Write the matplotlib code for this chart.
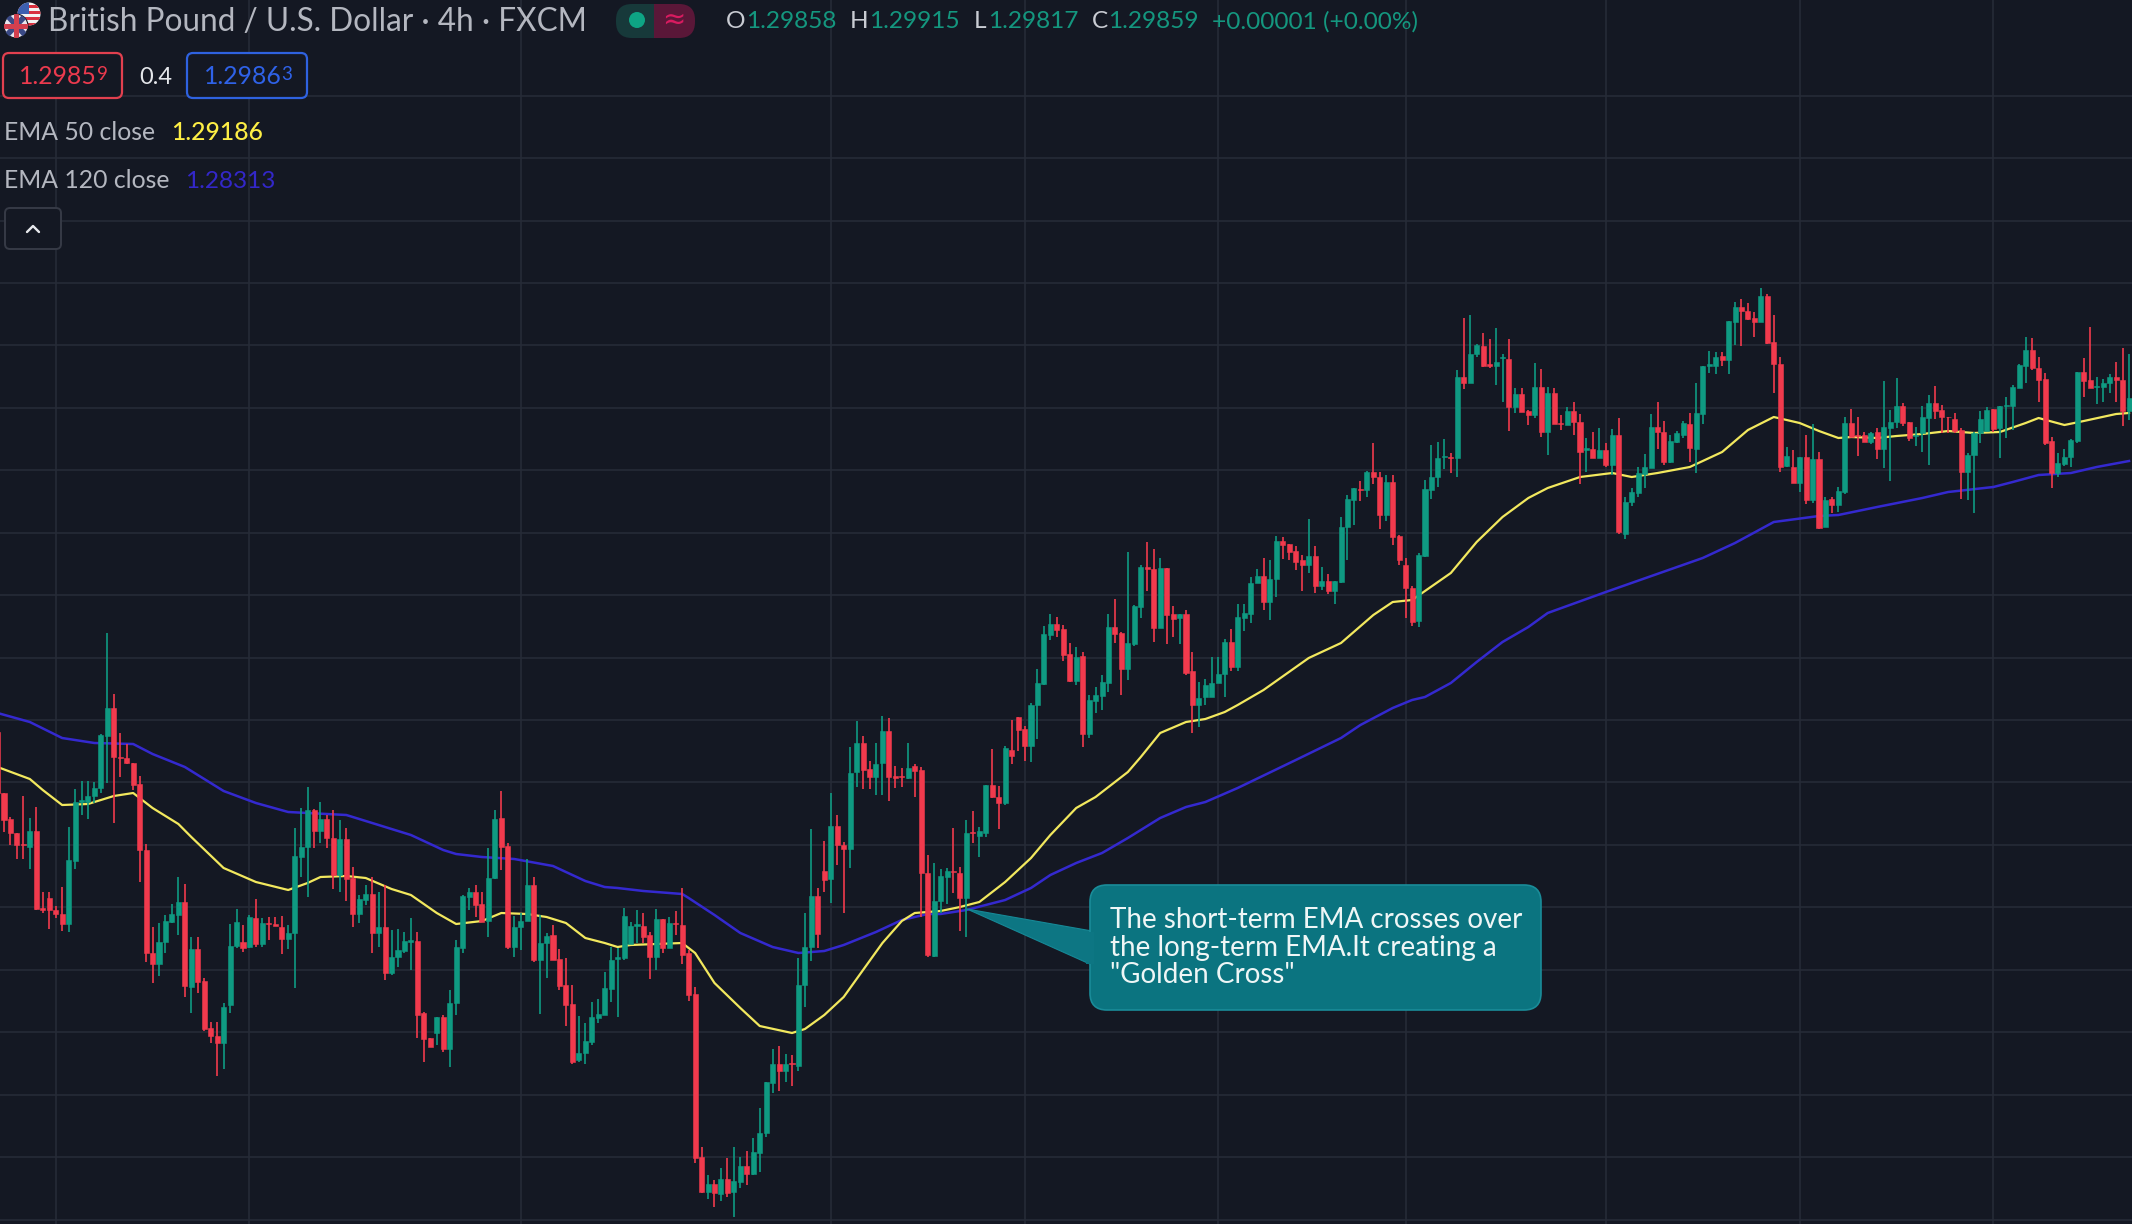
import numpy as np
import matplotlib
matplotlib.use("Agg")
import matplotlib.pyplot as plt
from matplotlib.patches import FancyBboxPatch, Circle, Polygon, Rectangle

# ---------- chart scale ----------
Y_TOP = 1.30133
Y_BOTTOM = 1.25232
PT = (Y_TOP - Y_BOTTOM) / 1224          # one point of price
TICK = PT / 3                           # readings are in thirds of a point
GRID_STEP = 0.0025

# Candles are read in seven stretches; each reading is in ticks below that stretch's reference depth.
depth_1 = 620
open_1 = [335,520,598,640,672,680,633,865,834,870,
          883,912,722,546,546,527,505,347,265,410,
          413,428,492,690,1000,1033,965,905,884,847,
          1100,988,1083,1225,1247,1268,1155,978,965,982,
          893,972,908,913,922,958,940,710]
close_1 = [520,600,640,675,675,633,868,870,870,883,
           912,720,545,541,527,505,345,265,412,413,
           430,495,690,1000,1033,965,903,882,847,1098,
           988,1085,1228,1248,1268,1160,977,905,985,892,
           972,910,912,917,958,940,708,680]
high_1 = [333,518,590,640,528,595,562,815,815,858,
          802,620,508,482,482,485,342,40,222,340,
          372,428,468,672,920,908,885,852,772,792,
          950,950,1075,1205,1205,1150,912,868,915,885,
          838,895,892,892,888,915,625,565]
low_1 = [525,635,675,716,716,748,870,878,928,895,
         932,935,746,585,597,550,520,490,610,472,
         432,510,785,1025,1090,1068,1000,910,945,1130,
         1178,1118,1233,1268,1368,1348,1180,985,995,985,
         982,980,960,918,1002,988,1105,772]

depth_2 = 760
open_2 = [262,150,212,178,235,345,237,355,462,420,
          402,518,502,640,592,572,545,543,760,835,
          818,770,868,730,565,410,397,432,483,355,
          175,257,562,502,482,375,600,548,525,598,
          675,732,900,880,845,773,765,687,597]
close_2 = [150,212,178,235,345,237,357,462,418,402,
           518,502,640,592,570,543,541,765,838,860,
           770,868,730,560,408,397,435,485,355,177,
           262,562,502,482,375,600,548,527,600,678,
           735,905,880,842,772,762,685,600,592]
high_2 = [80,148,125,165,150,180,205,322,405,375,
          352,397,375,510,508,515,475,515,755,835,
          770,765,690,540,405,385,375,395,265,150,
          92,250,468,458,298,352,465,520,495,568,
          595,675,768,790,725,718,635,562,565]
low_2 = [412,265,248,265,388,395,422,500,490,435,
         580,560,660,645,622,580,630,835,905,862,
         855,875,920,765,578,450,470,487,530,358,
         330,568,590,570,482,605,762,655,600,690,
         797,912,905,912,855,790,765,725,772]

depth_3 = 780
open_3 = [535,492,437,437,465,532,418,505,428,435,
          520,642,1132,1235,1212,1242,1197,1235,1205,1158,
          1182,1118,1060,908,852,872,850,858,615,502,
          348,272,298,138,195,208,-24,-110,-32,-9,
          -50,-148,-12,-12,-6,-41,-30]
close_3 = [408,437,432,470,532,418,505,428,432,525,
           645,1135,1235,1212,1240,1197,1238,1203,1158,1182,
           1115,1060,905,852,872,852,853,615,502,348,
           462,300,138,195,208,-21,-111,-29,-9,-49,
           -148,-9,-6,-9,-37,-27,280]
high_3 = [385,425,390,400,455,388,418,412,392,325,
          510,622,1100,1185,1200,1165,1135,1100,1130,1112,
          1075,985,905,808,798,822,825,535,400,148,
          325,182,40,105,185,-99,-177,-133,-56,-110,
          -191,-185,-41,-35,-110,-47,-39]
low_3 = [540,492,490,490,598,570,520,505,465,552,
         662,1148,1240,1258,1282,1262,1252,1310,1225,1215,
         1185,1175,1072,938,932,905,918,872,682,542,
         505,335,368,255,400,265,21,28,28,45,
         45,62,25,22,-4,52,410]

depth_4 = 540
open_4 = [1000,1247,1082,1010,992,998,1075,877,888,878,
          735,770,790,630,532,568,618,495,432,285,
          252,268,343,422,347,582,482,467,428,262,
          280,387,313,200,82,88,265,85,222,235,
          222,393,495,472,470,430,403,307,382]
close_4 = [1245,1082,1008,993,995,1075,878,880,873,735,
           772,790,625,648,570,618,494,430,282,252,
           270,345,422,350,582,480,465,427,262,282,
           387,310,198,82,86,265,85,225,237,222,
           398,495,473,435,428,403,307,382,232]
high_4 = [945,968,988,985,865,982,840,812,862,735,
          628,738,618,540,530,558,490,388,258,222,
          232,255,308,322,335,465,440,405,222,178,
          275,35,195,75,5,28,55,85,198,222,
          210,335,425,418,352,352,298,268,192]
low_4 = [1250,1250,1118,1092,1060,1172,1190,908,950,892,
         775,868,795,672,632,663,666,598,435,300,
         292,362,425,435,622,595,520,510,455,310,
         465,420,317,235,152,305,265,312,290,312,
         405,578,560,495,470,430,472,392,392]

depth_5 = 420
open_5 = [595,582,490,468,547,478,363,373,392,420,
          435,408,498,483,513,485,322,240,206,210,
          155,172,285,187,348,435,503,603,408,210,
          170,112,110,115]
close_5 = [578,488,468,547,478,362,375,395,425,435,
           408,497,483,513,483,320,238,205,210,155,
           172,285,187,350,420,505,605,405,208,170,
           115,108,115,-129]
high_5 = [552,472,448,415,420,348,350,372,377,405,
          298,378,442,462,483,292,225,205,182,153,
          68,155,165,165,345,415,498,400,180,75,
          65,58,98,-150]
low_5 = [632,610,490,570,600,530,418,420,450,512,
         460,520,510,522,552,490,420,315,242,232,
         192,327,303,375,435,595,618,622,410,237,
         200,148,160,170]

depth_6 = 280
open_6 = [291,309,222,198,252,258,235,238,380,343,
          393,405,320,456,340,430,435,393,425,510,
          508,533,510,555,465,762,667,640,582,563,
          442,457,545,487,465,432,507,402,258,258,
          228,240,125,82,92,115,125,47,187,253,
          558,560,608,530,660]
close_6 = [309,222,195,258,258,246,230,380,343,395,
           405,320,456,340,432,433,392,425,515,505,
           533,510,555,465,757,667,635,580,562,440,
           457,545,483,460,430,505,400,258,252,230,
           240,123,80,92,118,125,47,190,253,560,
           527,608,530,660,538]
high_6 = [114,105,192,159,177,144,222,178,325,325,
          390,250,268,322,325,405,382,365,403,475,
          455,445,490,448,415,650,625,560,522,403,
          365,422,465,452,422,400,308,258,212,215,
          215,122,65,58,68,95,25,42,105,232,
          502,510,530,465,432]
low_6 = [327,309,231,261,264,315,365,452,398,397,
         435,415,470,525,432,450,435,465,612,575,
         535,535,560,585,762,778,678,652,625,565,
         507,555,548,490,473,545,580,432,280,282,
         258,282,195,198,120,172,125,192,338,575,
         562,610,637,672,668]

depth_7 = 300
open_7 = [478,680,598,615,575,370,405,405,425,395,
          447,383,365,318,367,408,400,353,310,330,
          350,358,390,515,465,400,392,328,385,318,
          318,265,197,150,205,238,422,518,492,472,
          422,217,240,260,260,248,232,240,332]
close_7 = [683,600,615,572,370,410,408,425,398,447,
           382,365,318,370,415,405,352,310,332,352,
           352,392,515,465,400,358,330,388,318,315,
           262,195,150,205,240,430,518,490,472,420,
           217,242,263,257,248,232,240,332,295]
high_7 = [455,592,592,560,352,328,352,395,395,385,
          242,330,235,310,365,380,318,285,258,315,
          350,340,385,460,395,333,320,328,318,292,
          255,192,112,115,172,218,412,460,448,418,
          217,175,82,232,238,222,185,145,162]
low_7 = [688,680,638,635,582,412,467,425,432,477,
         505,542,385,378,423,438,457,495,358,398,
         400,400,597,600,640,430,392,395,473,413,
         390,265,250,210,305,435,565,530,498,502,
         430,292,265,312,305,280,305,378,360]

# EMA readings: bar number and points below the top of the scale
ema50_bar = [0,5,7,10,14,18,21,24,28,30,35,40,45,48,50,54,57,61,64,68,71,75,78,82,85,88,91,94,96,98,
             102,106,108,111,115,118,123,125,128,131,134,137,140,142,144,146,149,152,156,160,163,167,
             170,175,177,180,184,187,190,192,196,203,208,213,216,219,225,229,233,237,240,245,250,253,
             257,262,267,271,275,279,282,285,287,291,294,298,302,306,310,314,316,320,323,328,330]
ema50_pts = [767,779,790,805,804,796,793,808,824,837,868,882,890,883,877,876,878,889,895,913,924,921,913,914,917,923,938,943,947,945,
             944,943,953,983,1008,1026,1033,1029,1015,997,970,943,921,913,912,911,907,902,882,858,835,808,
             797,772,757,733,722,719,712,705,690,658,643,615,602,600,573,542,517,498,488,477,473,477,
             473,467,452,430,417,423,431,438,437,438,436,434,431,433,432,423,418,425,421,414,413]
ema120_bar = [0,5,10,15,21,24,29,35,40,45,48,54,57,64,69,71,75,80,86,91,94,96,100,106,107,111,115,120,124,128,
              131,136,140,144,146,150,156,160,163,167,171,175,180,184,187,192,201,208,211,216,219,221,225,
              229,233,237,240,249,264,269,275,282,285,291,298,302,309,312,316,321,325,330]
ema120_pts = [713,722,738,743,744,754,767,791,803,812,813,815,821,835,850,854,857,859,866,881,887,888,891,894,898,915,933,947,953,951,
              945,932,920,914,914,910,900,888,875,863,853,838,818,807,802,788,760,738,725,708,700,697,683,
              662,642,627,613,592,558,543,522,516,515,507,498,492,487,482,475,473,467,461]

time_ticks = [9, 39, 81, 129, 159, 189, 218, 249, 279, 309]
header_title = "British Pound / U.S. Dollar · 4h · FXCM"
ohlc_open, ohlc_high, ohlc_low, ohlc_close = "1.29858", "1.29915", "1.29817", "1.29859"
ohlc_change = "+0.00001 (+0.00%)"
bid, spread, ask = "1.29859", "0.4", "1.29863"
ema50_last, ema120_last = "1.29186", "1.28313"
callout_lines = ['The short-term EMA crosses over', 'the long-term EMA.It creating a', '"Golden Cross"']

# ---------- assemble ----------
def series(depth, ticks):
    return Y_TOP - (depth * PT + np.array(ticks, float) * TICK)

depths = [depth_1, depth_2, depth_3, depth_4, depth_5, depth_6, depth_7]
opens = np.concatenate([series(d, v) for d, v in zip(depths, [open_1, open_2, open_3, open_4, open_5, open_6, open_7])])
closes = np.concatenate([series(d, v) for d, v in zip(depths, [close_1, close_2, close_3, close_4, close_5, close_6, close_7])])
highs = np.concatenate([series(d, v) for d, v in zip(depths, [high_1, high_2, high_3, high_4, high_5, high_6, high_7])])
lows = np.concatenate([series(d, v) for d, v in zip(depths, [low_1, low_2, low_3, low_4, low_5, low_6, low_7])])
bars = np.arange(len(opens))

BG = "#141823"
GRID = "#262b37"
UP = "#0f9a82"
DOWN = "#f13a4d"
YELLOW = "#f2e85e"
BLUE = "#3429cf"
TXT = "#b4b7c0"

plt.rcParams['font.family'] = ['Lato', 'DejaVu Sans']
fig = plt.figure(figsize=(21.32, 12.24), dpi=100, facecolor=BG)
ax = fig.add_axes([0, 0, 1, 1], facecolor=BG)
ax.set_xlim(0.381, 330.46)
ax.set_ylim(Y_BOTTOM, Y_TOP)
ax.axis("off")

for t in time_ticks:
    ax.axvline(t, color=GRID, lw=1.2, zorder=1)
for lv in np.arange(1.2525, 1.2976, GRID_STEP):
    ax.axhline(lv, color=GRID, lw=1.2, zorder=1)

ax.plot(ema120_bar, Y_TOP - np.array(ema120_pts) * PT, color=BLUE, lw=1.8, zorder=2, solid_joinstyle="round")
ax.plot(ema50_bar, Y_TOP - np.array(ema50_pts) * PT, color=YELLOW, lw=1.6, zorder=2, solid_joinstyle="round")

colors = np.where(closes >= opens, UP, DOWN)
ax.vlines(bars, lows, highs, colors=list(colors), lw=1.2, zorder=3)
bottoms = np.minimum(opens, closes)
heights = np.abs(closes - opens)
ax.bar(bars, heights, bottom=bottoms, width=0.78, color=list(colors), edgecolor=list(colors), linewidth=0.4, zorder=4)

# ---------- interface overlay, in pixels ----------
ui = fig.add_axes([0, 0, 1, 1], facecolor="none")
ui.set_xlim(0, 2132)
ui.set_ylim(1224, 0)
ui.axis("off")

def label(x, y, s, color=TXT, size=17, **kw):
    kw.setdefault("va", "center")
    return ui.text(x, y, s, color=color, fontsize=size, **kw)

# flags
us = Circle((29, 14), 11.5, fc="#f2f2f2", ec="none", zorder=5)
ui.add_patch(us)
for yy in (5, 11, 17, 23):
    r = Rectangle((16, yy), 26, 3, fc="#d8303f", ec="none", zorder=6)
    ui.add_patch(r); r.set_clip_path(us)
c = Rectangle((16, 2), 13, 12, fc="#3c5fb0", ec="none", zorder=7)
ui.add_patch(c); c.set_clip_path(us)
gb = Circle((16, 26), 12, fc="#e9e6ee", ec=BG, lw=0.8, zorder=8)
ui.add_patch(gb)
for pts in ([(4, 16), (9, 14), (28, 34), (24, 38)], [(28, 17), (23, 14), (4, 34), (8, 38)]):
    p = Polygon(pts, fc="#3b4a86", ec="none", zorder=9)
    ui.add_patch(p); p.set_clip_path(gb)
for x0, y0, w, h in ((3, 23.5, 26, 5), (13.5, 13, 5, 26)):
    p = Rectangle((x0, y0), w, h, fc="#d3404f", ec="none", zorder=10)
    ui.add_patch(p); p.set_clip_path(gb)

label(48, 22, header_title, size=22.7)

# status pill
ui.add_patch(FancyBboxPatch((616, 4), 58, 34, boxstyle="round,pad=0,rounding_size=16", fc="#17393a", ec="none", zorder=5))
ui.add_patch(FancyBboxPatch((655, 4), 40, 34, boxstyle="round,pad=0,rounding_size=16", fc="#5a1738", ec="none", zorder=6))
ui.add_patch(Rectangle((654, 4), 16, 34, fc="#5a1738", ec="none", zorder=6))
ui.add_patch(Circle((637, 20), 8, fc="#0ea584", ec="none", zorder=7))
label(674, 20, "≈", color="#d81b60", size=20, ha="center", zorder=8, family="DejaVu Sans")

# OHLC
GREENTXT = "#14977f"
for lx, letter, vx, val in ((726, "O", 746, ohlc_open), (850, "H", 869, ohlc_high),
                            (974, "L", 988, ohlc_low), (1092, "C", 1108, ohlc_close)):
    label(lx, 21.5, letter, color="#c9ccd3", size=17.6)
    label(vx, 21.5, val, color=GREENTXT, size=17.6)
label(1212, 21.5, ohlc_change, color=GREENTXT, size=17.6)

# bid / ask
ui.add_patch(FancyBboxPatch((3, 53), 119, 45, boxstyle="round,pad=0,rounding_size=6", fc=BG, ec="#e2404f", lw=1.6, zorder=5))
ui.add_patch(FancyBboxPatch((187, 53), 120, 45, boxstyle="round,pad=0,rounding_size=6", fc=BG, ec="#2f62e0", lw=1.6, zorder=5))
label(19, 77, bid[:-1], color="#ec3a4e", size=17.8, zorder=6)
label(97, 74, bid[-1], color="#ec3a4e", size=13.5, zorder=6)
label(139, 77, spread, color="#e4e6ea", size=17, zorder=6)
label(204, 77, ask[:-1], color="#2f62e8", size=17.8, zorder=6)
label(281, 74, ask[-1], color="#2f62e8", size=13.5, zorder=6)

# indicators
label(4, 133, "EMA 50 close", size=17.8)
label(171, 133, ema50_last, color="#fdee45", size=17.8, fontweight="medium")
label(4, 181, "EMA 120 close", size=17.8)
label(185, 181, ema120_last, color="#3327c9", size=17.6)

# collapse button
ui.add_patch(FancyBboxPatch((5, 208), 56, 41, boxstyle="round,pad=0,rounding_size=5", fc=BG, ec="#363a46", lw=1.4, zorder=5))
ui.plot([27, 33, 39], [232, 226, 232], color="#e6e8ec", lw=1.7, zorder=6, solid_capstyle="round")

# callout
TEAL = "#0b7480"
ui.add_patch(Polygon([(967, 909), (1092, 931), (1092, 965)], fc="#0d7683", ec="#168896", lw=0.8, zorder=5))
ui.add_patch(FancyBboxPatch((1090, 885), 451, 125, boxstyle="round,pad=0,rounding_size=17", fc=TEAL, ec="#1a8c99", lw=1.2, zorder=6))
ui.add_patch(Rectangle((1086, 932), 8, 32, fc="#0d7683", ec="none", zorder=7))
for yy, line in zip((920, 948, 975), callout_lines):
    label(1110, yy, line, color="#eef6f6", size=20, zorder=8)

fig.savefig("out.png", dpi=100, facecolor=BG)
